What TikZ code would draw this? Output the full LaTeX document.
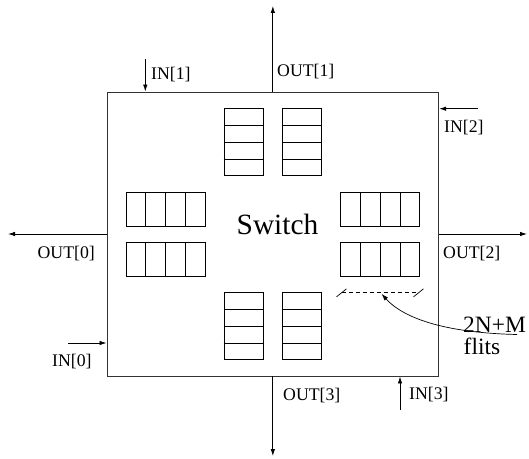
\documentclass[tikz,border=0pt]{standalone}
\usepackage{fontspec}
\setmainfont{Liberation Serif}
\usetikzlibrary{arrows.meta,calc}
\begin{document}
\begin{tikzpicture}[x=1bp,y=-1bp,
  lbl/.style={font=\fontsize{17.8}{18}\selectfont, inner sep=0pt},
  big/.style={font=\fontsize{23.5}{24}\selectfont, inner sep=0pt},
  arr/.style={-{Latex[length=7bp,width=4.5bp]}, line width=0.8bp},
  hbuf/.style={draw, line width=0.8bp, minimum width=79bp, minimum height=34bp, inner sep=0pt},
  vbuf/.style={draw, line width=0.8bp, minimum width=39bp, minimum height=67bp, inner sep=0pt},
  cell/.style={line width=0.8bp},
  ]
\useasboundingbox (0,0) rectangle (529,459);
% switch box
\node[draw=black!80, line width=0.9bp, minimum width=331.7bp, minimum height=284bp, inner sep=0pt] (sw) at (272.85,234) {};
\node[font=\fontsize{29.5}{30}\selectfont, inner sep=0pt, anchor=base] (swl) at (277.5,235) {Switch};
% buffers
\node[vbuf] (vtl) at (243.5,142.2) {};
\node[vbuf] (vtr) at (302,142.2) {};
\node[vbuf] (vbl) at (243.5,326.3) {};
\node[vbuf] (vbr) at (302,326.3) {};
\node[hbuf] (hl1) at (165.5,209.2) {};
\node[hbuf] (hl2) at (165.5,259.5) {};
\node[hbuf] (hr1) at (380.2,209.2) {};
\node[hbuf] (hr2) at (380.2,259.5) {};
\foreach \n in {hl1,hl2,hr1,hr2}
  \foreach \f in {0.25,0.5,0.75}
    \draw[cell] ($(\n.north west)!\f!(\n.north east)$) -- ($(\n.south west)!\f!(\n.south east)$);
\foreach \n in {vtl,vtr,vbl,vbr}
  \foreach \f in {0.25,0.5,0.75}
    \draw[cell] ($(\n.north west)!\f!(\n.south west)$) -- ($(\n.north east)!\f!(\n.south east)$);
% outputs
\coordinate (o1) at (272.85,6);
\coordinate (o3) at (272.85,456);
\coordinate (o0) at (8,234);
\coordinate (o2) at (527,234);
\draw[arr] (sw.north) -- (o1);
\draw[arr] (sw.south) -- (o3);
\draw[arr] (sw.west) -- (o0);
\draw[arr] (sw.east) -- (o2);
% inputs
\coordinate (i1) at (145.3,59);
\coordinate (i2) at (478,108.7);
\coordinate (i0) at (68,343);
\coordinate (i3) at (400,410);
\draw[arr] (i1) -- (sw.north -| i1);
\draw[arr] (i2) -- (sw.east |- i2);
\draw[arr] (i0) -- (sw.west |- i0);
\draw[arr] (i3) -- (sw.south -| i3);
% labels
\node[lbl, anchor=west] (lo1) at (277,72) {OUT[1]};
\node[lbl, anchor=west] (li1) at (151,75) {IN[1]};
\node[lbl, anchor=west] (li2) at (444,128) {IN[2]};
\node[lbl, anchor=east] (lo0) at (95,253.5) {OUT[0]};
\node[lbl, anchor=west] (lo2) at (443,253.5) {OUT[2]};
\node[lbl, anchor=west] (li0) at (52,362) {IN[0]};
\node[lbl, anchor=west] (lo3) at (283,396) {OUT[3]};
\node[lbl, anchor=west] (li3) at (409,395) {IN[3]};
% flits annotation
\coordinate (da) at (341.5,292.8);
\coordinate (db) at (418.5,292.8);
\draw[line width=0.7bp, dash pattern=on 4bp off 3bp] (da) -- (db);
\draw[line width=0.7bp] ($(da)+(-5,4)$) -- ($(da)+(5,-4)$);
\draw[line width=0.7bp] ($(db)+(-5,4)$) -- ($(db)+(5,-4)$);
\node[big, anchor=base west] (nm) at (463,332) {2N+M};
\node[big, anchor=base west] (fl) at (463.5,354) {flits};
\coordinate (cs) at (517,334.5);
\draw[arr, line width=0.7bp] (cs) .. controls (450,333) and (405,320) .. ($(da)!0.52!(db)+(0,1)$);
\end{tikzpicture}
\end{document}
